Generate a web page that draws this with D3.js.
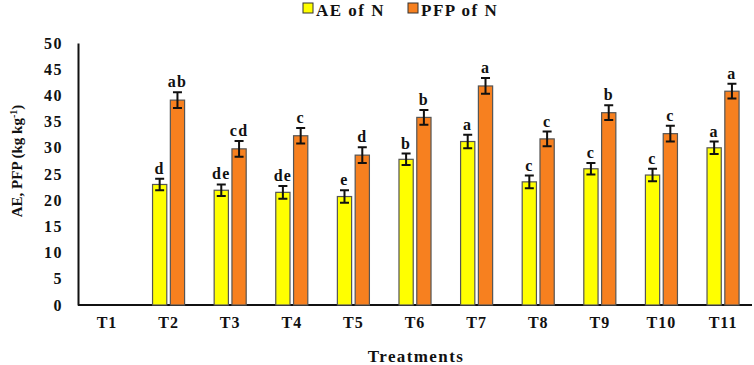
<!DOCTYPE html>
<html>
<head>
<meta charset="utf-8">
<script src="https://cdn.jsdelivr.net/npm/d3@7"></script>
<style>
  body { margin: 0; background: #fff; }
  text { font-family: "Liberation Serif", "Times New Roman", serif; font-weight: bold; fill: #111; }
</style>
</head>
<body>
<svg id="chart" width="754" height="365"></svg>
<script>
// data
const treatments = ['T1', 'T2', 'T3', 'T4', 'T5', 'T6', 'T7', 'T8', 'T9', 'T10', 'T11'];
const series = ['AE of N', 'PFP of N'];
const aeValues = [0, 23.0, 21.9, 21.5, 20.7, 27.8, 31.2, 23.5, 26.0, 24.8, 30.0];
const aeErrors = [0, 1.1, 1.1, 1.2, 1.2, 1.1, 1.3, 1.2, 1.1, 1.2, 1.2];
const aeLetters = ['', 'd', 'de', 'de', 'e', 'b', 'a', 'c', 'c', 'c', 'a'];
const pfpValues = [0, 39.1, 29.8, 32.3, 28.6, 35.8, 41.8, 31.7, 36.7, 32.7, 40.8];
const pfpErrors = [0, 1.5, 1.5, 1.5, 1.5, 1.4, 1.5, 1.4, 1.4, 1.5, 1.4];
const pfpLetters = ['', 'ab', 'cd', 'c', 'd', 'b', 'a', 'c', 'b', 'c', 'a'];
const yTicks = [0, 5, 10, 15, 20, 25, 30, 35, 40, 45, 50];

const colors = {
    'AE of N': '#ffff00',
    'PFP of N': '#f7801f'
};

const svg = d3.select('#chart');
const plotLeft = 78, plotRight = 752, plotTop = 43, plotBottom = 305;

const x = d3.scaleBand()
    .domain(treatments)
    .range([plotLeft, plotRight])
    .paddingInner(0.48)
    .paddingOuter(0.21);
const xInner = d3.scaleBand()
    .domain(series)
    .range([0, x.bandwidth()])
    .paddingInner(0.2);
const y = d3.scaleLinear().domain([0, 50]).range([plotBottom, plotTop]);

// axes (no tick marks, just the lines and labels)
const yAxis = svg.append('g')
    .attr('transform', `translate(${plotLeft},0)`)
    .call(d3.axisLeft(y).tickValues(yTicks).tickSize(0).tickPadding(15));
yAxis.select('.domain').attr('stroke', '#111').attr('stroke-width', 2);
yAxis.selectAll('text')
    .attr('font-family', null)
    .style('font-size', '16px')
    .style('letter-spacing', '1.5px');

const xAxis = svg.append('g')
    .attr('transform', `translate(0,${plotBottom})`)
    .call(d3.axisBottom(x).tickSize(0).tickPadding(12));
xAxis.select('.domain').attr('stroke', '#111').attr('stroke-width', 2)
    .attr('d', `M${plotLeft},0H${plotRight}`);
xAxis.selectAll('text')
    .attr('font-family', null)
    .style('font-size', '16px')
    .style('letter-spacing', '1px');

// one row per treatment, both series
const rows = treatments.map((t, i) => ({
    treatment: t,
    bars: [
        {key: series[0], value: aeValues[i], err: aeErrors[i], letter: aeLetters[i]},
        {key: series[1], value: pfpValues[i], err: pfpErrors[i], letter: pfpLetters[i]}
    ].filter(d => d.value > 0)
}));

const groups = svg.append('g').selectAll('g')
    .data(rows)
    .join('g')
    .attr('transform', d => `translate(${x(d.treatment)},0)`);

const bar = groups.selectAll('g')
    .data(d => d.bars)
    .join('g');

bar.append('rect')
    .attr('x', d => xInner(d.key))
    .attr('y', d => y(d.value))
    .attr('width', xInner.bandwidth())
    .attr('height', d => y(0) - y(d.value))
    .attr('fill', d => colors[d.key])
    .attr('stroke', '#555')
    .attr('stroke-width', 1.2);

// error bars
const cap = 4.5;
bar.append('path')
    .attr('d', d => {
        const cx = xInner(d.key) + xInner.bandwidth() / 2;
        const y1 = y(d.value + d.err), y2 = y(d.value - d.err);
        return `M${cx - cap},${y1}H${cx + cap}M${cx},${y1}V${y2}M${cx - cap},${y2}H${cx + cap}`;
    })
    .attr('fill', 'none')
    .attr('stroke', '#111')
    .attr('stroke-width', 2);

bar.append('text')
    .attr('x', d => xInner(d.key) + xInner.bandwidth() / 2)
    .attr('y', d => y(d.value + d.err) - 5)
    .attr('text-anchor', 'middle')
    .style('font-size', '16px')
    .style('letter-spacing', '1.2px')
    .text(d => d.letter);

// axis titles
svg.append('text')
    .attr('transform', 'translate(22,161) rotate(-90)')
    .attr('text-anchor', 'middle')
    .style('font-size', '15px')
    .call(t => {
        t.append('tspan').text('AE, PFP (kg kg');
        t.append('tspan').attr('baseline-shift', 'super').style('font-size', '10px').text('-1');
        t.append('tspan').text(')');
    });

svg.append('text')
    .attr('x', 416)
    .attr('y', 362)
    .attr('text-anchor', 'middle')
    .style('font-size', '17px')
    .style('letter-spacing', '1.4px')
    .text('Treatments');

// legend
const legend = svg.append('g').selectAll('g')
    .data(series)
    .join('g')
    .attr('transform', (d, i) => `translate(${[303, 408][i]},3)`);
legend.append('rect')
    .attr('width', 10).attr('height', 10)
    .attr('fill', d => colors[d])
    .attr('stroke', '#333').attr('stroke-width', 1);
legend.append('text')
    .attr('x', 13).attr('y', 13)
    .style('font-size', '17px')
    .style('letter-spacing', '1.5px')
    .text(d => d);
</script>
</body>
</html>
